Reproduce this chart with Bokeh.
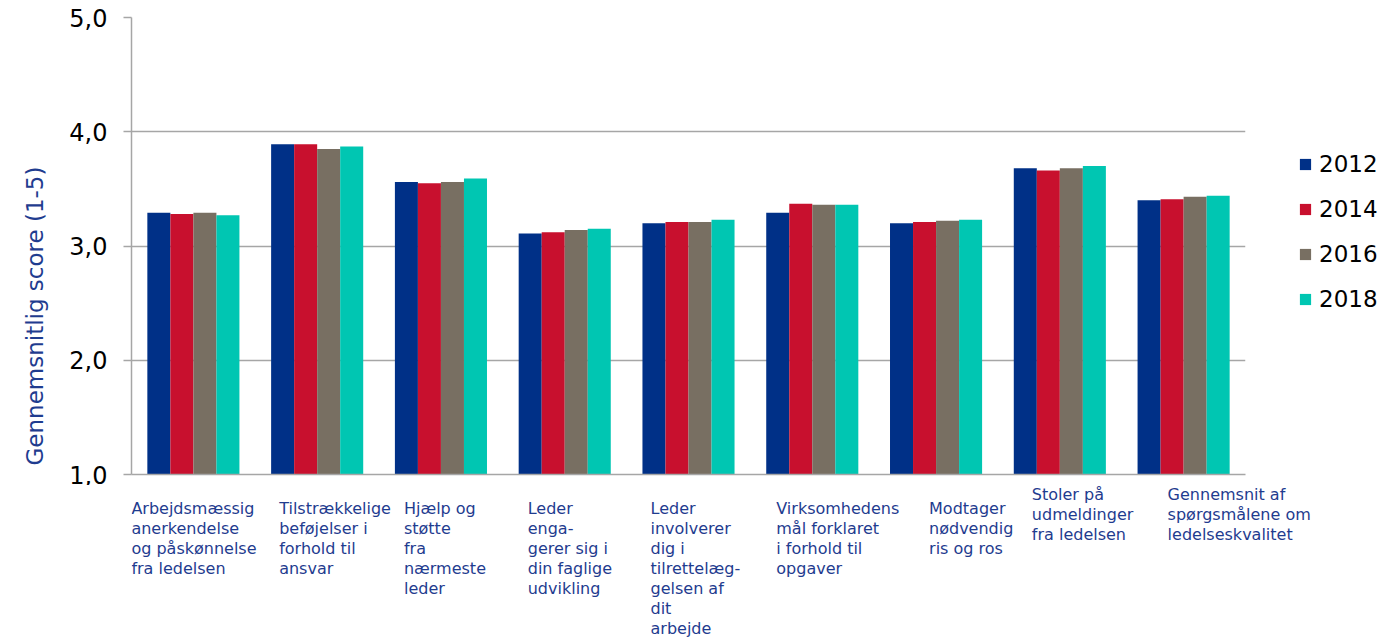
from bokeh.plotting import figure
from bokeh.models import (ColumnDataSource, FactorRange, Range1d, FixedTicker, Legend,
                          LegendItem, Title)
from bokeh.layouts import column
from bokeh.transform import dodge
from bokeh.core.properties import value
from bokeh.embed import file_html
from bokeh.resources import INLINE

categories = [
    "Arbejdsmæssig\nanerkendelse\nog påskønnelse\nfra ledelsen",
    "Tilstrækkelige\nbeføjelser i\nforhold til\nansvar",
    "Hjælp og\nstøtte\nfra\nnærmeste\nleder",
    "Leder\nenga-\ngerer sig i\ndin faglige\nudvikling",
    "Leder\ninvolverer\ndig i\ntilrettelæg-\ngelsen af\ndit\narbejde",
    "Virksomhedens\nmål forklaret\ni forhold til\nopgaver",
    "Modtager\nnødvendig\nris og ros",
    "Stoler på\nudmeldinger\nfra ledelsen",
    "Gennemsnit af\nspørgsmålene om\nledelseskvalitet",
]
years = ["2012", "2014", "2016", "2018"]
v2012 = [3.29, 3.89, 3.56, 3.11, 3.20, 3.29, 3.20, 3.68, 3.40]
v2014 = [3.28, 3.89, 3.55, 3.12, 3.21, 3.37, 3.21, 3.66, 3.41]
v2016 = [3.29, 3.85, 3.56, 3.14, 3.21, 3.36, 3.22, 3.68, 3.43]
v2018 = [3.27, 3.87, 3.59, 3.15, 3.23, 3.36, 3.23, 3.70, 3.44]
y_ticks = [1, 2, 3, 4, 5]
y_tick_labels = ["1,0", "2,0", "3,0", "4,0", "5,0"]
y_title = "Gennemsnitlig score (1-5)"

# styling
colors = ["#003087", "#C8102E", "#786F62", "#00C6B2"]
label_dx = [-62, -38, -37, -37, -38, -36, -7, -28, -16]
label_dy = [13, 13, 13, 13, 13, 13, 13, -1, -1]
text_blue = "#1F3C8F"
grid_gray = "#A6A6A6"
FONT = "DejaVu Sans"
FRAME_W, FRAME_H = 1114, 457
LEFT, TOP, BOTTOM = 131, 17, 11
TOTAL_W, TOTAL_H = 1382, 637
LAB_PAD = 35  # extra px on each side of the label strip

ids = [str(i) for i in range(len(categories))]
src = ColumnDataSource(dict(cat=ids, v2012=v2012, v2014=v2014, v2016=v2016, v2018=v2018))

# ---------------- main chart ----------------
p = figure(frame_width=FRAME_W, frame_height=FRAME_H, x_range=FactorRange(*ids),
           y_range=Range1d(1, 5), output_backend="svg", toolbar_location=None,
           min_border_left=LEFT, min_border_right=TOTAL_W - LEFT - FRAME_W,
           min_border_top=TOP, min_border_bottom=BOTTOM)
p.outline_line_color = None

bar_w = 0.186
offsets = [-1.5 * bar_w, -0.5 * bar_w, 0.5 * bar_w, 1.5 * bar_w]
renderers = []
for yr, col, off in zip(years, colors, offsets):
    r = p.vbar(x=dodge("cat", off, range=p.x_range), top="v" + yr, bottom=1, width=bar_w,
               source=src, fill_color=col, line_color=None)
    renderers.append(r)

p.yaxis.ticker = FixedTicker(ticks=y_ticks)
p.yaxis.major_label_overrides = {t: l for t, l in zip(y_ticks, y_tick_labels)}
p.yaxis.major_label_text_font = FONT
p.yaxis.major_label_text_font_size = "24px"
p.yaxis.major_label_text_color = "#000000"
p.yaxis.major_label_standoff = 16
p.yaxis.axis_line_color = grid_gray
p.yaxis.axis_line_width = 1.5
p.yaxis.major_tick_line_color = grid_gray
p.yaxis.major_tick_line_width = 1.5
p.yaxis.major_tick_out = 8
p.yaxis.major_tick_in = 0
p.yaxis.minor_tick_line_color = None

# y axis title as a left-side title (allows placing it along the axis)
p.add_layout(Title(text=y_title, align="left", offset=9, vertical_align="middle",
                   standoff=35, text_font=FONT, text_font_size="23px",
                   text_font_style="normal", text_color=text_blue), "left")

p.xaxis.major_label_text_font_size = "0px"
p.xaxis.major_label_standoff = 0
p.xaxis.major_tick_line_color = None
p.xaxis.minor_tick_line_color = None
p.xaxis.axis_line_color = grid_gray
p.xaxis.axis_line_width = 1.5
p.xgrid.grid_line_color = None
p.ygrid.grid_line_color = grid_gray
p.ygrid.grid_line_width = 1.5

legend = Legend(items=[LegendItem(label=yr, renderers=[r]) for yr, r in zip(years, renderers)],
                location=(53, 162), padding=0, margin=0, spacing=18,
                glyph_width=14, glyph_height=14, label_height=27, label_standoff=7,
                label_text_font=FONT, label_text_font_size="23px",
                label_text_color="#000000", border_line_color=None,
                background_fill_alpha=0)
p.add_layout(legend, "right")

main_h = TOP + FRAME_H + BOTTOM

# ---------------- category labels ----------------
# The label strip's frame is aligned with the main frame on the left and is
# padded by LAB_PAD on both sides, so its factor centres sit LAB_PAD px to the
# right of the bar-group centres; the text offsets compensate for that.
group_px = FRAME_W / len(ids)
pl = figure(frame_width=FRAME_W + 2 * LAB_PAD, frame_height=TOTAL_H - main_h,
            x_range=FactorRange(*ids, range_padding=LAB_PAD / group_px,
                                range_padding_units="absolute"),
            y_range=Range1d(0, 1), output_backend="svg", toolbar_location=None,
            x_axis_location=None, y_axis_location=None,
            min_border_left=LEFT, min_border_right=0, min_border_top=0,
            min_border_bottom=0)
pl.outline_line_color = None
pl.xgrid.grid_line_color = None
pl.ygrid.grid_line_color = None
lab_src = ColumnDataSource(dict(cat=ids, text=categories,
                                dx=[d - LAB_PAD for d in label_dx], dy=label_dy))
pl.text(x="cat", y=1, text="text", source=lab_src, x_offset="dx", y_offset="dy",
        text_align="left", text_baseline="top", text_font=value(FONT),
        text_font_size="16px", text_color=text_blue, text_line_height=1.06)

layout = column(p, pl)
open("out.html", "w").write(file_html(layout, INLINE))
